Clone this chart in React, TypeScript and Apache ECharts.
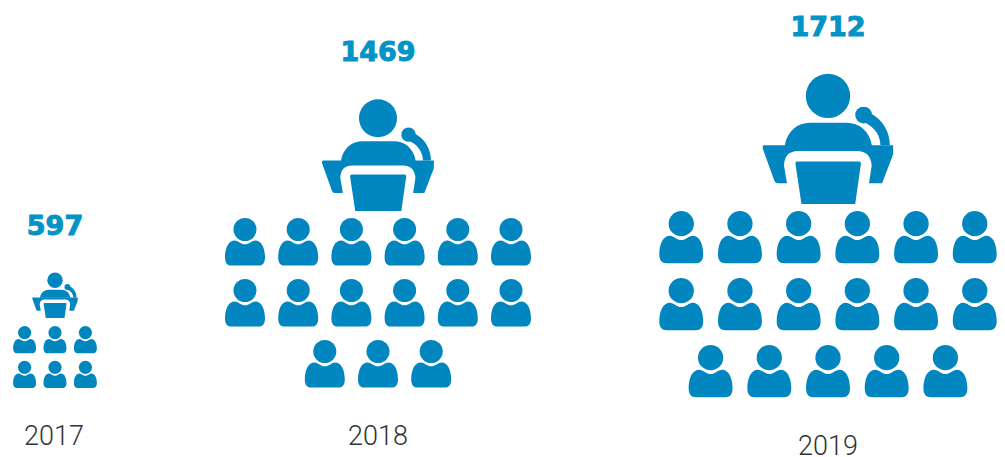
import React, { useEffect, useRef } from "react";
import * as echarts from "echarts";

const years = ["2017", "2018", "2019"];
const values = [597, 1469, 1712];
const audienceRows = [
  [3, 3],
  [6, 6, 3],
  [6, 6, 5],
];

// Layout of each year's pictogram (not data)
const layout = [
  { cx: 55, speakerBottom: 318, personW: 23, pitch: 30.4, rowTop: 326, rowPitch: 34.7, labelY: 225, yearX: 54, yearY: 436 },
  { cx: 378, speakerBottom: 211, personW: 40, pitch: 53.2, rowTop: 218, rowPitch: 61, labelY: 51, yearX: 378, yearY: 436 },
  { cx: 828, speakerBottom: 204, personW: 44, pitch: 58.7, rowTop: 211, rowPitch: 67, labelY: 26, yearX: 828, yearY: 446 },
];
const SPEAKER_PER_VALUE = 0.0761;
const ICON = "#0286bf";
const LABEL = "#0293c7";
const YEAR = "#333333";

const circle = (x: number, y: number, r: number) =>
  `M${x - r},${y} A${r},${r} 0 1 1 ${x + r},${y} A${r},${r} 0 1 1 ${x - r},${y} Z`;

const speakerParts = [
  circle(0, 66, 66),
  circle(106, 123, 25),
  "M126,118 C165,138 184,175 184,213 L156,213 C156,185 140,160 111,146 Z",
  "M-129,215 C-122,170 -90,146 -54,146 L56,146 C92,146 124,170 131,215 Z",
  "M-190,213 L194,213 L194,240 L161,326 L122,326 L130,273 Q126,230 86,230 L-89,230 Q-129,230 -131,273 L-122,326 L-150,326 Q-157,326 -160,318 L-194,223 Q-196,213 -190,213 Z",
  "M-92,261 L92,261 Q98,261 98,268 L81,388 L-79,388 L-97,268 Q-97,261 -92,261 Z",
];
const personParts = [
  circle(0, 38, 38),
  "M-34,74 C-24,74 -12,87 0,87 C12,87 24,74 34,74 C54,74 66,98 66,130 C66,148 58,157 44,157 L-44,157 C-58,157 -66,148 -66,130 C-66,98 -54,74 -34,74 Z",
];

const SPEAKER_UNITS = 388;
const PERSON_UNITS = 132;

const pathEl = (d: string, x: number, y: number, s: number) => ({
  type: "path",
  x,
  y,
  scaleX: s,
  scaleY: s,
  shape: { pathData: d },
  style: { fill: ICON, stroke: "none" },
  silent: true,
});

export default function App() {
  const ref = useRef<HTMLDivElement>(null);
  useEffect(() => {
    document.body.style.margin = "0";
    const chart = echarts.init(ref.current!, undefined, { renderer: "svg" });
    const option = {
      animation: false,
      backgroundColor: "#ffffff",
      grid: { left: 0, right: 0, top: 0, bottom: 0 },
      xAxis: { type: "value", min: 0, max: 1005, show: false },
      yAxis: { type: "value", min: 0, max: 457, inverse: true, show: false },
      series: [
        {
          type: "custom",
          clip: false,
          silent: true,
          data: values.map((v, i) => [layout[i].cx, layout[i].speakerBottom, v, i]),
          encode: { x: 0, y: 1 },
          renderItem: (_params: any, api: any) => {
            const i = api.value(3) as number;
            const value = api.value(2) as number;
            const l = layout[i];
            const [cx, bottom] = api.coord([api.value(0), api.value(1)]);
            const children: any[] = [];
            const speakerW = value * SPEAKER_PER_VALUE;
            const ss = speakerW / SPEAKER_UNITS;
            const top = bottom - speakerW;
            speakerParts.forEach((d) => children.push(pathEl(d, cx, top, ss)));
            const ps = l.personW / PERSON_UNITS;
            audienceRows[i].forEach((count, r) => {
              for (let k = 0; k < count; k++) {
                const px = cx + (k - (count - 1) / 2) * l.pitch;
                const py = l.rowTop + r * l.rowPitch;
                personParts.forEach((d) => children.push(pathEl(d, px, py, ps)));
              }
            });
            children.push({
              type: "text",
              x: cx,
              y: l.labelY,
              silent: true,
              style: {
                text: String(value),
                fill: LABEL,
                stroke: LABEL,
                lineWidth: 1,
                font: 'bold 27px "DejaVu Sans"',
                textAlign: "center",
                textVerticalAlign: "middle",
              },
            });
            children.push({
              type: "text",
              x: l.yearX,
              y: l.yearY,
              silent: true,
              style: {
                text: years[i],
                fill: YEAR,
                font: '300 27px Roboto',
                lineHeight: 20,
                textAlign: "center",
                textVerticalAlign: "middle",
              },
            });
            return { type: "group", children };
          },
        },
      ],
    };
    chart.setOption(option as any);
    return () => chart.dispose();
  }, []);
  return <div ref={ref} style={{ width: 1005, height: 457 }} />;
}
